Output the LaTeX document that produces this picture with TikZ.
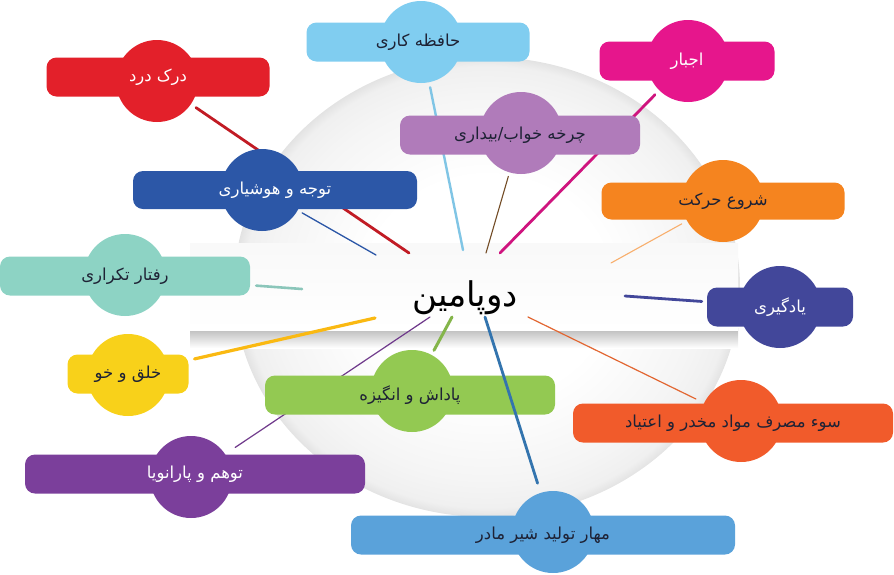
\documentclass[tikz,border=0pt]{standalone}
\usepackage{fontspec}
\newfontfamily\fa[Script=Arabic]{DejaVu Sans}
\TeXXeTstate=1

\definecolor{ink}{HTML}{1E2235}
\definecolor{painred}{HTML}{E3202A}
\definecolor{memblue}{HTML}{80CDF0}
\definecolor{compink}{HTML}{E6168C}
\definecolor{sleeplila}{HTML}{B07BBA}
\definecolor{motionor}{HTML}{F5841F}
\definecolor{attnblue}{HTML}{2C57A7}
\definecolor{repteal}{HTML}{8DD3C4}
\definecolor{learnind}{HTML}{42479A}
\definecolor{moodyel}{HTML}{F8D11A}
\definecolor{rewgreen}{HTML}{93C952}
\definecolor{parapurp}{HTML}{7B3F9B}
\definecolor{addictor}{HTML}{F15B2B}
\definecolor{milkblue}{HTML}{5AA2DA}

\pgfdeclareradialshading{plate}{\pgfpoint{0bp}{0bp}}{color(0bp)=(white); color(12bp)=(white); color(21bp)=(gray!8); color(24bp)=(gray!12); color(25bp)=(gray!22); color(50bp)=(gray!22)}

\pgfdeclarelayer{back}
\pgfdeclarelayer{spokes}
\pgfsetlayers{back,spokes,main}

\tikzstyle{blob}=[circle, minimum size=82pt, inner sep=0pt]
\tikzstyle{bar}=[rounded corners=10pt, minimum height=39pt, inner sep=0pt, text=ink, font=\fontsize{16.5}{19}\fa]
\tikzstyle{spoke}=[line cap=round, shorten >=6pt]

\begin{document}
\begin{tikzpicture}[x=1pt, y=-1pt]
    \useasboundingbox (0,0) rectangle (894,574);

    % plate and bar behind the centre word
    \begin{pgfonlayer}{back}
    \shade[shading=plate] (487,287) ellipse [x radius=253pt, y radius=230pt];
    \shade[top color=gray!55, bottom color=white] (190,328) rectangle (738,348);
    \shade[top color=gray!5, bottom color=white] (190,243) rectangle (738,330);
    \end{pgfonlayer}

    \node[font=\fontsize{34}{40}\fa] (dopa) at (465,298) {\beginR دوپامین\endR};

    % labels
    \node[blob, fill=painred] (painc) at (157,81) {};
    \node[bar, fill=painred, minimum width=223pt, text=white] (pain) at (158,77) {\beginR درک درد\endR};

    \node[blob, fill=memblue] (memc) at (421,42) {};
    \node[bar, fill=memblue, minimum width=223pt] (mem) at (418,42) {\beginR حافظه کاری\endR};

    \node[blob, fill=compink] (compc) at (688,61) {};
    \node[bar, fill=compink, minimum width=175pt, text=white] (comp) at (687,61) {\beginR اجبار\endR};

    \node[blob, fill=sleeplila] (sleepc) at (521,133) {};
    \node[bar, fill=sleeplila, minimum width=240pt] (sleep) at (520,135) {\beginR چرخه خواب/بیداری\endR};

    \node[blob, fill=motionor] (motc) at (723,201) {};
    \node[bar, fill=motionor, minimum width=243pt, minimum height=37pt] (mot) at (723,201) {\beginR شروع حرکت\endR};

    \node[blob, fill=attnblue] (attnc) at (262,190) {};
    \node[bar, fill=attnblue, minimum width=284pt, minimum height=38pt, text=white] (attn) at (275,190) {\beginR توجه و هوشیاری\endR};

    \node[blob, fill=repteal] (repc) at (125,275) {};
    \node[bar, fill=repteal, minimum width=250pt] (rep) at (125,276) {\beginR رفتار تکراری\endR};

    \node[blob, fill=learnind] (learnc) at (780,307) {};
    \node[bar, fill=learnind, minimum width=146pt, text=white] (learn) at (780,307) {\beginR یادگیری\endR};

    \node[blob, fill=moodyel] (moodc) at (128,375) {};
    \node[bar, fill=moodyel, minimum width=121pt] (mood) at (128,374) {\beginR خلق و خو\endR};

    \node[blob, fill=rewgreen] (rewc) at (412,391) {};
    \node[bar, fill=rewgreen, minimum width=290pt] (rew) at (410,395) {\beginR پاداش و انگیزه\endR};

    \node[blob, fill=parapurp] (parac) at (191,477) {};
    \node[bar, fill=parapurp, minimum width=340pt, text=white] (para) at (195,474) {\beginR توهم و پارانویا\endR};

    \node[blob, fill=addictor] (addc) at (741,421) {};
    \node[bar, fill=addictor, minimum width=320pt] (add) at (733,423) {\beginR سوء مصرف مواد مخدر و اعتیاد\endR};

    \node[blob, fill=milkblue] (milkc) at (553,532) {};
    \node[bar, fill=milkblue, minimum width=384pt] (milk) at (543,535) {\beginR مهار تولید شیر مادر\endR};

    % spokes from the centre word
    \coordinate (s-pain) at (409,253);
    \coordinate (s-mem) at (463,250);
    \coordinate (s-comp) at (500,253);
    \coordinate (s-sleep) at (486,253);
    \coordinate (s-mot) at (611,263);
    \coordinate (s-attn) at (376,255);
    \coordinate (s-rep) at (302,289);
    \coordinate (s-learn) at (625,296);
    \coordinate (s-mood) at (375,318);
    \coordinate (s-rew) at (452,317);
    \coordinate (s-para) at (430,317);
    \coordinate (s-add) at (528,317);
    \coordinate (s-milk) at (485,317);

    \begin{pgfonlayer}{spokes}
    \draw[spoke, color=painred!85!black, line width=2.8pt] (s-pain) -- (painc);
    \draw[spoke, color=memblue!90!gray, line width=2.4pt, shorten >=5pt] (s-mem) -- (memc);
    \draw[spoke, color=compink!90!black, line width=2.8pt] (s-comp) -- (compc);
    \draw[spoke, color=brown!60!black, line width=1.1pt, shorten >=4pt] (s-sleep) -- (sleepc);
    \draw[spoke, color=motionor!65, line width=1.1pt] (s-mot) -- (motc);
    \draw[spoke, color=attnblue, line width=1.3pt, shorten >=5pt] (s-attn) -- (attnc);
    \draw[spoke, color=repteal!85!gray, line width=2.6pt] (s-rep) -- (rep);
    \draw[spoke, color=learnind, line width=2.8pt, shorten >=5pt] (s-learn) -- (learn);
    \draw[spoke, color=moodyel!70!orange, line width=3.2pt] (s-mood) -- (mood);
    \draw[spoke, color=rewgreen!90!black, line width=3pt, shorten >=5pt] (s-rew) -- (rewc);
    \draw[spoke, color=parapurp!90!black, line width=1.2pt, shorten >=12pt] (s-para) -- (parac);
    \draw[spoke, color=addictor!70!brown, line width=1.2pt, shorten >=9pt] (s-add) -- (addc);
    \end{pgfonlayer}
    \draw[spoke, color=cyan!60!blue!80!black, line width=2.8pt, shorten >=10pt] (s-milk) -- (milkc);
\end{tikzpicture}
\end{document}
